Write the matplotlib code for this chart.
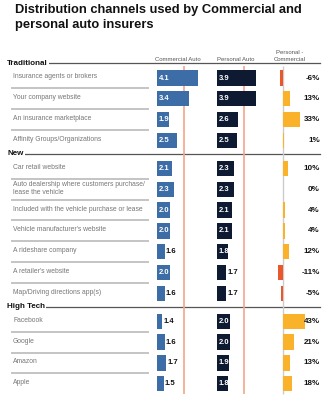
import matplotlib
matplotlib.use("Agg")
import matplotlib.pyplot as plt

plt.rcParams['font.family'] = ['Liberation Sans', 'DejaVu Sans']

sections = ["Traditional", "New", "High Tech"]
section_sizes = [4, 7, 4]
channels = [
    "Insurance agents or brokers",
    "Your company website",
    "An insurance marketplace",
    "Affinity Groups/Organizations",
    "Car retail website",
    "Auto dealership where customers purchase/\nlease the vehicle",
    "Included with the vehicle purchase or lease",
    "Vehicle manufacturer's website",
    "A rideshare company",
    "A retailer's website",
    "Map/Driving directions app(s)",
    "Facebook",
    "Google",
    "Amazon",
    "Apple",
]
commercial = [4.1, 3.4, 1.9, 2.5, 2.1, 2.3, 2.0, 2.0, 1.6, 2.0, 1.6, 1.4, 1.6, 1.7, 1.5]
personal = [3.9, 3.9, 2.6, 2.5, 2.3, 2.3, 2.1, 2.1, 1.8, 1.7, 1.7, 2.0, 2.0, 1.9, 1.8]
diff_pct = [-6, 13, 33, 1, 10, 0, 4, 4, 12, -11, -5, 43, 21, 13, 18]
baseline = 1.0
ref_value = 3.0

W, H = 332, 408
TOP, BOT = 45, 398
ROW0, S = 78, 20.8

BLUE = "#3d6da6"
NAVY = "#0e1a31"
POS = "#fbb22b"
NEG = "#e9572b"
REF = "#f5a68a"

# row y positions (row units), with a gap before each section
ys = []
i = 0
for s, n in enumerate(section_sizes):
    for _ in range(n):
        ys.append(i + 0.35 * s)
        i += 1

ylo, yhi = (BOT - ROW0) / S, (TOP - ROW0) / S


def py(p):
    return (p - ROW0) / S


fig = plt.figure(figsize=(W / 100, H / 100), dpi=100)


def px_axes(x0, x1):
    ax = fig.add_axes([x0 / W, 1 - BOT / H, (x1 - x0) / W, (BOT - TOP) / H])
    ax.set_ylim(ylo, yhi)
    ax.axis("off")
    return ax


fig.text(15 / W, 1 - 4 / H, "Distribution channels used by Commercial and\npersonal auto insurers",
         ha="left", va="top", fontsize=9.3, fontweight="bold", color="#111111",
         linespacing=1.3)

# table: labels, separators, headers
tab = px_axes(0, W)
tab.set_xlim(0, W)
start = 0
for s, n in enumerate(section_sizes):
    hy = ys[start] - 0.7
    tab.plot([7, 320], [hy, hy], color="#555555", lw=0.9)
    tab.text(7, hy, sections[s], ha="left", va="center", fontsize=5.8, fontweight="bold",
             color="#111111", bbox=dict(facecolor="white", edgecolor="none", pad=0.8))
    for k in range(start, start + n - 1):
        sy = (ys[k] + ys[k + 1]) / 2
        tab.plot([12, 148], [sy, sy], color="#c4c4c4", lw=1.4)
    start += n
for y, lab in zip(ys, channels):
    tab.text(13, y - 0.05, lab, ha="left", va="center", fontsize=4.9, color="#777777", linespacing=1.25)

tab.text(178, py(62), "Commercial Auto", ha="center", va="bottom", fontsize=4.3, color="#555555")
tab.text(236, py(62), "Personal Auto", ha="center", va="bottom", fontsize=4.3, color="#555555")
tab.text(290, py(62), "Personal -\nCommercial", ha="center", va="bottom", fontsize=4.3,
         color="#555555", linespacing=1.5)


def score_column(ax, vals, color):
    ax.set_xlim(1 - 7 / 13.3, 1 + 53 / 13.3)
    ax.vlines(ref_value, py(66), py(394), color=REF, lw=1.2, zorder=1)
    ax.barh(ys, [v - baseline for v in vals], left=baseline, height=0.74, color=color, zorder=2)
    for y, v in zip(ys, vals):
        if v >= 1.8:
            ax.annotate(f"{v:.1f}", (baseline, y), xytext=(2, 0), textcoords="offset pixels",
                        ha="left", va="center", fontsize=5.5, fontweight="bold", color="white", zorder=3)
        else:
            ax.annotate(f"{v:.1f}", (v, y), xytext=(1, 0), textcoords="offset pixels",
                        ha="left", va="center", fontsize=5.5, fontweight="bold", color="#111111", zorder=3)


ax_c = px_axes(150, 210)
score_column(ax_c, commercial, BLUE)
ax_p = px_axes(210, 270)
score_column(ax_p, personal, NAVY)

ax_d = px_axes(270, 325)
ax_d.set_xlim(-26, 84)
ax_d.vlines(0, py(66), py(394), color="#cccccc", lw=1, zorder=1)
ax_d.barh(ys, diff_pct, height=0.74, color=[POS if d >= 0 else NEG for d in diff_pct], zorder=2)
for y, d in zip(ys, diff_pct):
    ax_d.text(74, y, f"{d}%", ha="right", va="center", fontsize=5.8, fontweight="bold", color="#111111")

fig.savefig("out.png", dpi=100)
